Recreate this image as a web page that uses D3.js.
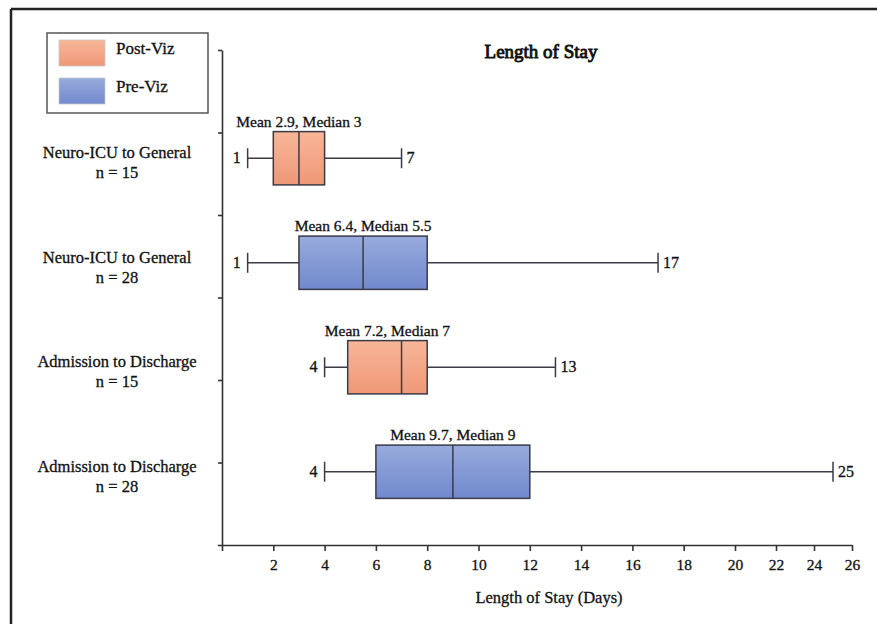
<!DOCTYPE html>
<html>
<head>
  <meta charset="utf-8">
  <script src="https://d3js.org/d3.v7.min.js"></script>
  <style>
    body { margin: 0; background: #fff; }
    text { font-family: "Liberation Serif", "Times New Roman", serif; fill: #111; stroke: #111; stroke-width: 0.3px; }
    .axis path, .axis line { stroke: #333; stroke-width: 1.6px; }
    .axis text { font-size: 15.5px; }
  </style>
</head>
<body>
<script>
// chart data
var categories = ["Neuro-ICU to General", "Neuro-ICU to General", "Admission to Discharge", "Admission to Discharge"];
var sampleSizes = [15, 28, 15, 28];
var groups = ["Post-Viz", "Pre-Viz", "Post-Viz", "Pre-Viz"];
var mins = [1, 1, 4, 4];
var q1s = [2, 3, 4.9, 6];
var medians = [3, 5.5, 7, 9];
var q3s = [4, 8, 8, 12];
var maxs = [7, 17, 13, 25];
var means = [2.9, 6.4, 7.2, 9.7];
var xTicks = [0, 2, 4, 6, 8, 10, 12, 14, 16, 18, 20, 22, 24, 26];
var legendGroups = ["Post-Viz", "Pre-Viz"];

var width = 877, height = 624;

var svg = d3.select("body").append("svg")
  .attr("width", width)
  .attr("height", height);

// gradients for the two groups
var defs = svg.append("defs");
var gradColors = {
  "Post-Viz": ["#f8b698", "#ef9877"],
  "Pre-Viz": ["#98abdd", "#7189cd"]
};
legendGroups.forEach(function(g, i) {
  var lg = defs.append("linearGradient")
    .attr("id", "grad" + i)
    .attr("x1", 0).attr("y1", 0).attr("x2", 0).attr("y2", 1);
  lg.append("stop").attr("offset", "0%").attr("stop-color", gradColors[g][0]);
  lg.append("stop").attr("offset", "100%").attr("stop-color", gradColors[g][1]);
});
function fillFor(g) { return "url(#grad" + legendGroups.indexOf(g) + ")"; }

// frame (top and left edges)
svg.append("line").attr("x1", 11).attr("x2", width).attr("y1", 9).attr("y2", 9)
  .style("stroke", "#222").style("stroke-width", 2.5);
svg.append("line").attr("x1", 11).attr("x2", 11).attr("y1", 9).attr("y2", height)
  .style("stroke", "#222").style("stroke-width", 2.5);

// scales: the original axis is compressed past 20
var x = d3.scaleLinear()
  .domain([0, 20, 22, 24, 26])
  .range([222, 735, 776, 814, 852]);

var yTicks = d3.scaleLinear().domain([0, 6]).range([545, 50]);

var y = d3.scaleBand()
  .domain(d3.range(categories.length))
  .range([106, 524])
  .paddingInner(0.49)
  .paddingOuter(0.245);

// axes
svg.append("g")
  .attr("class", "axis")
  .attr("transform", "translate(0,545)")
  .call(d3.axisBottom(x).tickValues(xTicks).tickSize(6).tickSizeOuter(0)
    .tickFormat(function(d) { return d === 0 ? "" : d; }))
  .call(function(g) { g.selectAll("text").attr("dy", "1.05em"); });

svg.append("g")
  .attr("class", "axis")
  .attr("transform", "translate(222,0)")
  .call(d3.axisLeft(yTicks).ticks(6).tickSize(4).tickSizeOuter(0).tickFormat(""));

// titles
svg.append("text")
  .attr("x", 541).attr("y", 58)
  .attr("text-anchor", "middle")
  .style("font-size", "19px").style("stroke-width", "0.9px")
  .text("Length of Stay");

svg.append("text")
  .attr("x", 549).attr("y", 603)
  .attr("text-anchor", "middle")
  .style("font-size", "16.5px")
  .text("Length of Stay (Days)");

// category labels
var labels = svg.append("g").selectAll("text")
  .data(d3.range(categories.length))
  .enter().append("text")
  .attr("text-anchor", "middle")
  .style("font-size", "16.5px")
  .attr("x", 117)
  .attr("y", function(i) { return y(i) + y.bandwidth() / 2; });
labels.append("tspan").attr("x", 117).attr("dy", 0).text(function(i) { return categories[i]; });
labels.append("tspan").attr("x", 117).attr("dy", 20).text(function(i) { return "n = " + sampleSizes[i]; });

// box plots
var box = svg.append("g").selectAll("g")
  .data(d3.range(categories.length))
  .enter().append("g");

var stroke = "#3a3a48";
function cy(i) { return y(i) + y.bandwidth() / 2; }

// whiskers
box.append("line")
  .attr("x1", function(i) { return x(mins[i]); })
  .attr("x2", function(i) { return x(maxs[i]); })
  .attr("y1", cy).attr("y2", cy)
  .style("stroke", stroke).style("stroke-width", 1.5);

[mins, maxs].forEach(function(arr) {
  box.append("line")
    .attr("x1", function(i) { return x(arr[i]); })
    .attr("x2", function(i) { return x(arr[i]); })
    .attr("y1", function(i) { return cy(i) - 10; })
    .attr("y2", function(i) { return cy(i) + 10; })
    .style("stroke", stroke).style("stroke-width", 1.5);
});

box.append("rect")
  .attr("x", function(i) { return x(q1s[i]); })
  .attr("width", function(i) { return x(q3s[i]) - x(q1s[i]); })
  .attr("y", function(i) { return y(i); })
  .attr("height", y.bandwidth())
  .style("fill", function(i) { return fillFor(groups[i]); })
  .style("stroke", stroke).style("stroke-width", 1.5);

box.append("line")
  .attr("x1", function(i) { return x(medians[i]); })
  .attr("x2", function(i) { return x(medians[i]); })
  .attr("y1", function(i) { return y(i); })
  .attr("y2", function(i) { return y(i) + y.bandwidth(); })
  .style("stroke", stroke).style("stroke-width", 1.5);

// annotations
box.append("text")
  .attr("text-anchor", "middle")
  .style("font-size", "15.5px")
  .attr("x", function(i) { return (x(q1s[i]) + x(q3s[i])) / 2; })
  .attr("y", function(i) { return y(i) - 5; })
  .text(function(i) { return "Mean " + means[i] + ", Median " + medians[i]; });

box.append("text")
  .attr("text-anchor", "end")
  .style("font-size", "16px")
  .attr("x", function(i) { return x(mins[i]) - 7; })
  .attr("y", function(i) { return cy(i) + 5; })
  .text(function(i) { return mins[i]; });

box.append("text")
  .style("font-size", "16px")
  .attr("x", function(i) { return x(maxs[i]) + 5; })
  .attr("y", function(i) { return cy(i) + 5; })
  .text(function(i) { return maxs[i]; });

// legend
var legend = svg.append("g");
legend.append("rect")
  .attr("x", 47).attr("y", 33).attr("width", 161).attr("height", 80)
  .style("fill", "#fff").style("stroke", "#555").style("stroke-width", 1.5);
var item = legend.selectAll("g.item")
  .data(legendGroups)
  .enter().append("g")
  .attr("class", "item")
  .attr("transform", function(d, i) { return "translate(59," + (40 + i * 38) + ")"; });
item.append("rect")
  .attr("width", 46).attr("height", 26)
  .style("fill", function(d) { return fillFor(d); })
  .style("stroke", "#c9c9c9").style("stroke-width", 0.8);
item.append("text")
  .attr("x", 57).attr("y", 14)
  .style("font-size", "17px")
  .text(function(d) { return d; });
</script>
</body>
</html>
